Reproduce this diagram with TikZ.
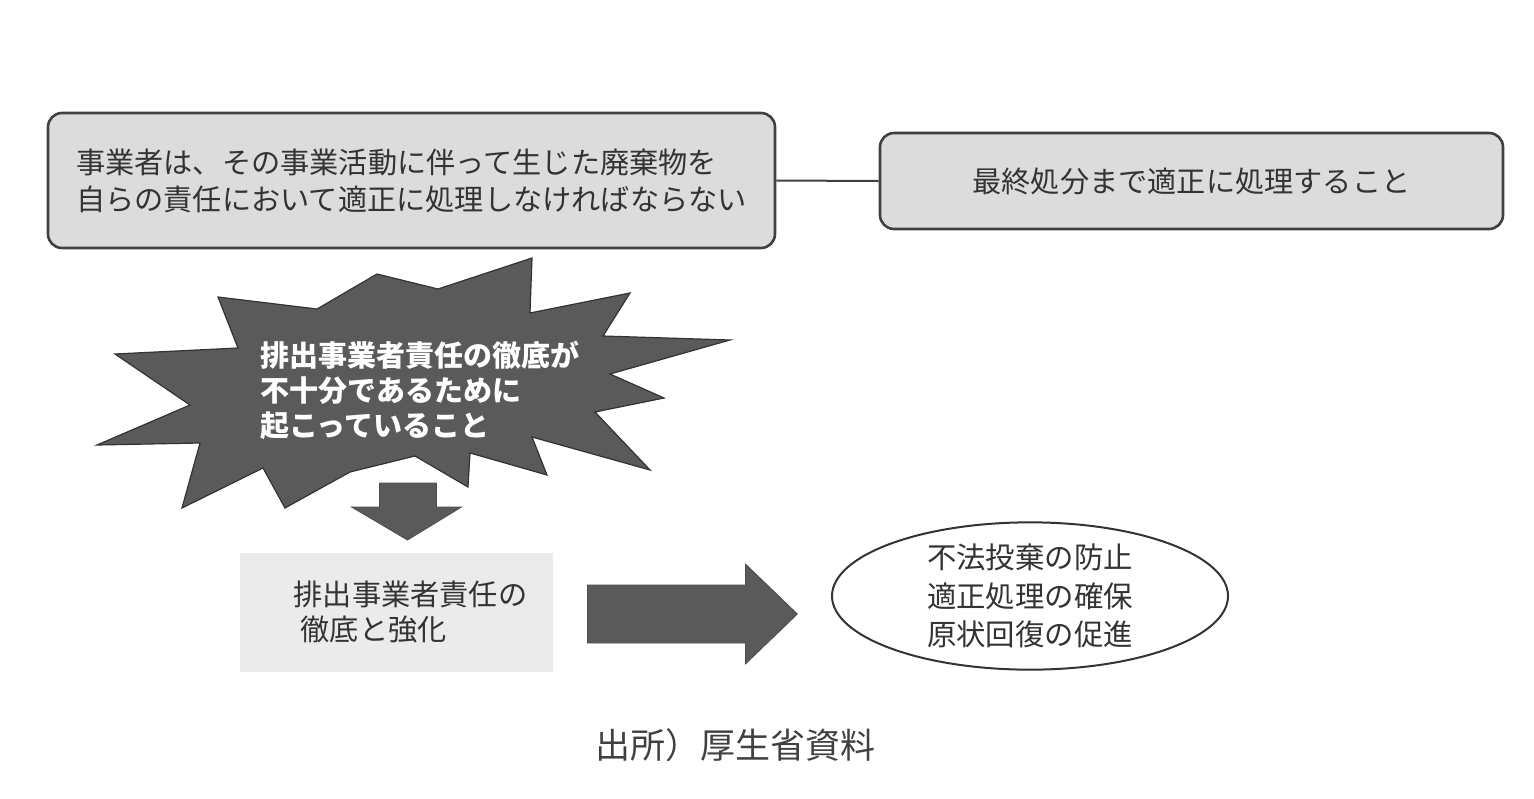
\documentclass[tikz,border=0pt]{standalone}
\usepackage{fontspec}
\newfontfamily\jp{Noto Sans CJK JP}
\usetikzlibrary{shapes.geometric,calc}
\definecolor{boxfill}{HTML}{DCDCDC}
\definecolor{pale}{HTML}{EBEBEB}
\definecolor{burstfill}{HTML}{5A5A5A}
\definecolor{ink}{HTML}{333333}

\begin{document}
\begin{tikzpicture}[
  x=0.5pt, y=-0.5pt,
  font=\jp\fontsize{14.6pt}{18.5pt}\selectfont,
  rbox/.style={draw=black!75, line width=1.3pt, rounded corners=7pt,
               fill=boxfill, text=ink, inner sep=0pt},
  lightbox/.style={fill=pale, text=ink, inner sep=0pt, align=left,
                   font=\jp\fontsize{14.6pt}{17.5pt}\selectfont},
  oval/.style={ellipse, draw=black!80, line width=1pt, inner sep=0pt,
               align=center, text=ink,
               font=\jp\fontsize{14.7pt}{19.25pt}\selectfont},
  burstshape/.style={fill=burstfill, draw=black!80, line width=0.6pt},
  blockarr/.style={fill=burstfill, draw=black!70, line width=0.4pt},
  link/.style={draw=black!75, line width=1pt},
]
\useasboundingbox (0,0) rectangle (1534,798);

% top row
\node[rbox, minimum width=363.5pt, minimum height=67.5pt, align=left] (bizduty)
  at (411.5,180.5)
  {事業者は、その事業活動に伴って生じた廃棄物を\\自らの責任において適正に処理しなければならない};
\node[rbox, minimum width=311.5pt, minimum height=48pt] (final)
  at (1191.5,181) {最終処分まで適正に処理すること};
\draw[link] (bizduty.east) -- (final.west);

% starburst
\draw[burstshape] (115,354) -- (238,348) -- (218,297) -- (317,309) -- (377,274)
  -- (438,289) -- (532,258) -- (530,313) -- (630,293) -- (603,336) -- (730,340)
  -- (610,374) -- (664,398) -- (595,412) -- (650,470) -- (532,437) -- (547,475)
  -- (470,453) -- (468,487) -- (415,456) -- (350,472) -- (285,508) -- (263,468)
  -- (182,508) -- (200,443) -- (97,445) -- (190,405) -- cycle;
\node[text=white, align=left,
      font=\jp\bfseries\fontsize{14.5pt}{17.5pt}\selectfont] (burst) at (420,390)
  {排出事業者責任の徹底が\\不十分であるために\\起こっていること};

% bottom row
\node[lightbox, minimum width=156.5pt, minimum height=59.5pt] (strict)
  at (396.5,612.5)
  {\hspace*{14pt}排出事業者責任の\\\hspace*{17.5pt}徹底と強化};
\node[oval, minimum width=198pt, minimum height=66pt] (goals) at (1030,596)
  {不法投棄の防止\\適正処理の確保\\原状回復の促進};

% block arrows
\coordinate (dtop) at (408,483);
\draw[blockarr] (dtop) ++(-28.5,0) -- ++(57,0) -- ++(0,24) -- ++(25,0)
  -- ++(-54,33) -- ++(-56,-33) -- ++(28,0) -- cycle;
\coordinate (rtail) at ($(strict.east)+(34,1.5)$);
\draw[blockarr] (rtail) ++(0,-29) -- ++(158,0) -- ++(0,-21) -- ++(52,50)
  -- ++(-52,50) -- ++(0,-21) -- ++(-158,0) -- cycle;

% source
\node[text=black!75, font=\jp\fontsize{17.5pt}{20pt}\selectfont] (source)
  at (735,745) {出所）厚生省資料};
\end{tikzpicture}
\end{document}
